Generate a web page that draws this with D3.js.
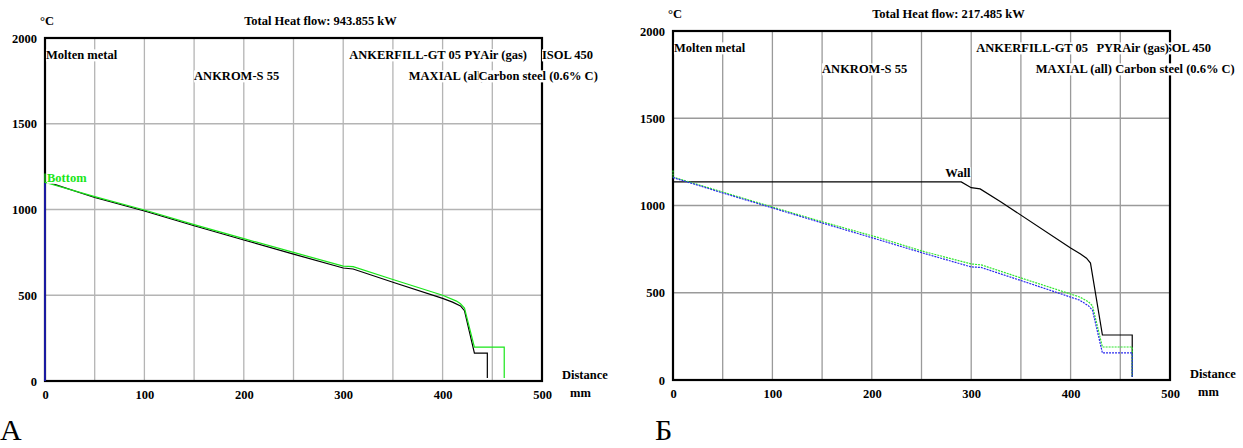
<!DOCTYPE html>
<meta charset="utf-8">
<head>
  <meta charset="utf-8">
  <title>Temperature profiles</title>
  <script src="https://cdn.jsdelivr.net/npm/d3@7"></script>
  <style>
    body { margin: 0; background: #fff; }
    text { font-family: "Liberation Serif", "Times New Roman", serif; font-weight: bold; font-size: 12.5px; }
  </style>
</head>
<body>
<script>

// axis ticks and grid
var xTicks = [0, 100, 200, 300, 400, 500];
var yTicks = [0, 500, 1000, 1500, 2000];
var gridX = [50, 100, 150, 200, 250, 300, 350, 400, 450];
var gridY = [500, 1000, 1500];

var heatFlowA = "943.855";
var heatFlowB = "217.485";

// chart A : [distance mm, temperature °C]
var aBlack = [[5,1155],[50,1070],[100,991],[150,905],[200,822],[250,740],[300,659],[310,653],
              [350,576],[400,482],[410,460],[418,438],[422,410],[432,163],[445,163],[445,17]];
var aGreen = [[0,1210],[0,1158],[50,1075],[100,997],[150,912],[200,830],[250,750],[300,670],[310,667],
              [350,592],[400,500],[414,466],[418,450],[422,425],[432,198],[462,198],[462,17]];
var aBlue  = [[0,0],[0,1155]];

// chart Б
var bWall  = [[0,1135],[290,1135],[300,1102],[309,1095],[330,1020],[400,757],[410,722],[416,698],
              [420,670],[432,258],[462,258],[462,17]];
var bGreen = [[0,1200],[0,1163],[50,1077],[100,991],[150,907],[208,814],[250,740],[300,665],[310,660],
              [350,585],[409,476],[418,448],[422,425],[432,189],[462,189],[462,17]];
var bBlue  = [[0,1160],[50,1072],[100,986],[150,900],[208,802],[250,730],[300,648],[310,645],
              [350,570],[409,458],[418,425],[422,400],[432,155],[462,155],[462,17]];

// layer names: [text, distance where the label starts, row]; later ones cover earlier ones
var aLayers = [["Molten metal",1,0],["ANKROM-S 55",150,1],["ANKERFILL-GT 05",306,0],["PYRO",422,0],
               ["Air (gas)",438,0],["ISOL 450",500,0],["MAXIAL (all)",366,1],["Carbon steel (0.6% C)",436,1]];
var bLayers = [["Molten metal",1,0],["ANKROM-S 55",150,1],["ANKERFILL-GT 05",305,0],["PYRO",426,0],
               ["ISOL 450",490,0],["Air (gas)",452,0],["MAXIAL (all)",365,1],["Carbon steel (0.6% C)",445,1]];

var svg = d3.select("body").append("svg")
    .attr("width", 1243)
    .attr("height", 448);

function label(g, txt, x, y, color) {
  var t = g.append("text")
      .attr("x", x).attr("y", y).attr("dy", "0.35em")
      .style("fill", color || "#000")
      .text(txt);
  var b = t.node().getBBox();
  g.insert("rect", function() { return t.node(); })
      .attr("x", b.x).attr("y", b.y + 1).attr("width", b.width).attr("height", b.height - 2)
      .style("fill", "#fff");
  return t;
}

function drawChart(c) {
  var g = svg.append("g");

  var x = d3.scaleLinear().domain([0, 500]).range([c.x0, c.x1]);
  var y = d3.scaleLinear().domain([0, 2000]).range([c.y0, c.y1]);

  // grid
  g.selectAll(".gx").data(gridX).enter().append("line")
      .attr("x1", function(d) { return x(d); }).attr("x2", function(d) { return x(d); })
      .attr("y1", y(0)).attr("y2", y(2000))
      .style("stroke", c.grid).style("stroke-width", 1.3);
  g.selectAll(".gy").data(gridY).enter().append("line")
      .attr("y1", function(d) { return y(d); }).attr("y2", function(d) { return y(d); })
      .attr("x1", x(0)).attr("x2", x(500))
      .style("stroke", c.grid).style("stroke-width", 1.3);

  // frame
  g.append("rect")
      .attr("x", x(0)).attr("y", y(2000))
      .attr("width", x(500) - x(0)).attr("height", y(0) - y(2000))
      .style("fill", "none").style("stroke", "#000").style("stroke-width", 2.2);

  // curves
  var line = d3.line().x(function(d) { return x(d[0]); }).y(function(d) { return y(d[1]); });
  c.series.forEach(function(s) {
    g.append("path").datum(s.data)
        .attr("d", line)
        .style("fill", "none")
        .style("stroke", s.color)
        .style("stroke-width", s.width || 1.2)
        .style("stroke-dasharray", s.dash || null);
  });

  // axes
  var ax = g.append("g")
      .attr("transform", "translate(0," + y(0) + ")")
      .call(d3.axisBottom(x).tickValues(xTicks).tickFormat(d3.format("d")).tickSize(0).tickPadding(9));
  var ay = g.append("g")
      .attr("transform", "translate(" + x(0) + ",0)")
      .call(d3.axisLeft(y).tickValues(yTicks).tickFormat(d3.format("d")).tickSize(0).tickPadding(8));
  [ax, ay].forEach(function(a) {
    a.select(".domain").remove();
    a.attr("font-family", null).attr("font-size", null);
    a.selectAll("text").style("fill", "#000");
  });

  // titles
  g.append("text").attr("x", x(0) - 5).attr("y", y(2000) - 17).attr("dy", "0.35em").text("°C");
  g.append("text").attr("x", (x(0) + x(500)) / 2 + 27).attr("y", y(2000) - 17).attr("dy", "0.35em")
      .attr("text-anchor", "middle").text("Total Heat flow: " + c.flow + " kW");
  g.append("text").attr("x", x(500) + 20).attr("y", y(0) - 6).attr("dy", "0.35em").text("Distance");
  g.append("text").attr("x", x(500) + 28).attr("y", y(0) + 12).attr("dy", "0.35em").text("mm");

  // layer labels
  c.layers.forEach(function(l) {
    label(g, l[0], x(l[1]), y(2000) + 17 + l[2] * 21);
  });

  c.extra(g, x, y);

  svg.append("text")
      .attr("x", c.letterX).attr("y", 440)
      .style("font-weight", "normal").style("font-size", "30px")
      .text(c.letter);
}

drawChart({
  x0: 45, x1: 542, y0: 381, y1: 38, grid: "#b4b4b4",
  flow: heatFlowA, layers: aLayers, letter: "А", letterX: 0,
  series: [
    {data: aBlue, color: "#1a1aa0", width: 2},
    {data: aBlack, color: "#000"},
    {data: aGreen, color: "#19e619"}
  ],
  extra: function(g, x, y) {
    label(g, "Bottom", x(0) + 2, y(1158) - 5, "#19e619");
  }
});

drawChart({
  x0: 673, x1: 1170, y0: 380, y1: 31, grid: "#9a9a9a",
  flow: heatFlowB, layers: bLayers, letter: "Б", letterX: 655,
  series: [
    {data: bWall, color: "#000"},
    {data: bGreen, color: "#2ee62e", dash: "2,1"},
    {data: bBlue, color: "#2a2aee", dash: "2,1"}
  ],
  extra: function(g, x, y) {
    label(g, "Wall", x(274), y(1135) - 9);
  }
});

</script>
</body>
